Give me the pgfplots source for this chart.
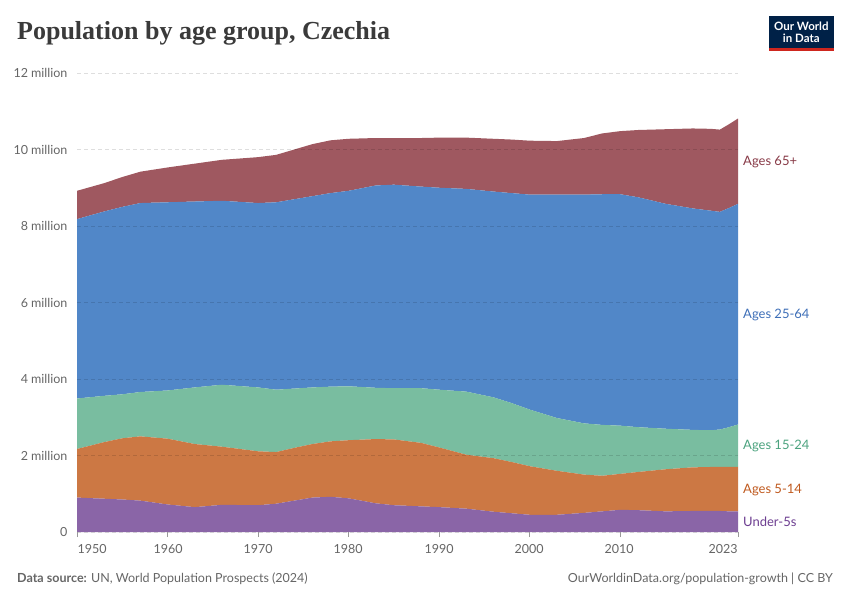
\documentclass[border=0pt]{standalone}
\usepackage{fontspec}
\setmainfont{Lato}
\newfontfamily\titlefont{Liberation Serif}
\usepackage{pgfplots}
\usepackage{pgfplotstable}
\pgfplotsset{compat=1.18}
\definecolor{cU}{HTML}{8A65A7}
\definecolor{cA}{HTML}{CC7844}
\definecolor{cB}{HTML}{79BDA0}
\definecolor{cC}{HTML}{5187C8}
\definecolor{cD}{HTML}{9F5860}
\definecolor{lU}{HTML}{6D3E91}
\definecolor{lA}{HTML}{C05A1F}
\definecolor{lB}{HTML}{4CA37F}
\definecolor{lC}{HTML}{3E6FB8}
\definecolor{lD}{HTML}{883A47}
\definecolor{txt}{HTML}{666666}
\definecolor{ttl}{HTML}{3A3A3A}
\definecolor{navy}{HTML}{002147}
\definecolor{owidred}{HTML}{CE261E}
\pgfplotstableread{
year u5 a514 a1524 a2564 a65
1950 0.90 1.27 1.32 4.69 0.74
1953 0.87 1.48 1.21 4.82 0.74
1955 0.85 1.60 1.15 4.90 0.78
1957 0.82 1.68 1.16 4.94 0.82
1960 0.72 1.72 1.26 4.92 0.91
1963 0.65 1.65 1.48 4.86 0.99
1966 0.71 1.52 1.62 4.81 1.07
1970 0.70 1.41 1.67 4.82 1.20
1972 0.74 1.35 1.63 4.90 1.24
1974 0.82 1.38 1.55 4.95 1.30
1976 0.90 1.40 1.48 5.00 1.36
1978 0.92 1.45 1.43 5.06 1.38
1980 0.88 1.52 1.41 5.11 1.36
1983 0.75 1.68 1.34 5.29 1.24
1985 0.70 1.72 1.34 5.32 1.22
1988 0.67 1.66 1.43 5.27 1.27
1990 0.65 1.56 1.51 5.28 1.31
1993 0.61 1.41 1.65 5.30 1.34
1996 0.53 1.40 1.59 5.38 1.38
1998 0.49 1.34 1.54 5.49 1.40
2000 0.45 1.27 1.48 5.62 1.41
2003 0.45 1.15 1.38 5.84 1.40
2006 0.50 1.00 1.34 5.98 1.48
2008 0.54 0.93 1.33 6.03 1.59
2010 0.58 0.94 1.26 6.05 1.65
2012 0.57 1.00 1.17 6.01 1.76
2015 0.54 1.10 1.06 5.88 1.95
2018 0.55 1.14 0.98 5.79 2.09
2020 0.55 1.15 0.96 5.74 2.14
2021 0.55 1.15 0.98 5.69 2.15
2022 0.54 1.16 1.04 5.73 2.19
2023 0.54 1.16 1.11 5.77 2.23
}\pop
\begin{document}
\begin{tikzpicture}[x=1pt,y=1pt]
\path[use as bounding box] (0,0) rectangle (850,600);
\fill[white] (0,0) rectangle (850,600);
% title
\node[anchor=base west, inner sep=0, text=ttl, font=\titlefont\bfseries\fontsize{26}{30}\selectfont] at (17,560) {Population by age group, Czechia};
% logo
\fill[navy] (769,548.5) rectangle (833.5,584);
\fill[owidred] (769,548.5) rectangle (833.5,551.5);
\node[text=white, font=\bfseries\fontsize{11.5}{12.5}\selectfont, align=center, inner sep=0] at (801.3,567.5) {Our World\\in Data};
\begin{axis}[at={(77pt,68pt)}, anchor=south west, scale only axis,
  width=661pt, height=459pt,
  xmin=1950, xmax=2023, ymin=0, ymax=12,
  stack plots=y,
  axis on top,
  axis line style={draw=none},
  ytick={0,2,4,6,8,10,12},
  yticklabels={0,2 million,4 million,6 million,8 million,10 million,12 million},
  ymajorgrids,
  grid style={dash pattern=on 4pt off 3pt, draw=black, opacity=0.13, line width=0.6pt},
  xtick={1950,1960,1970,1980,1990,2000,2010,2023},
  xticklabels={},
  xtick pos=bottom,
  ytick pos=left,
  tick align=outside,
  major tick length=5pt,
  x tick style={draw=black!40, line width=0.6pt},
  y tick style={draw=none},
  yticklabel style={text=txt, font=\fontsize{12.5}{14}\selectfont, /pgf/number format/assume math mode=true, xshift=-1pt},
  clip=false,
]
\addplot[fill=cU, draw=none] table[x=year,y=u5] {\pop} \closedcycle;
\addplot[fill=cA, draw=none] table[x=year,y=a514] {\pop} \closedcycle;
\addplot[fill=cB, draw=none] table[x=year,y=a1524] {\pop} \closedcycle;
\addplot[fill=cC, draw=none] table[x=year,y=a2564] {\pop} \closedcycle;
\addplot[fill=cD, draw=none] table[x=year,y=a65] {\pop} \closedcycle;
\end{axis}
% x tick labels
\begin{scope}[every node/.style={text=txt, font=\fontsize{12.5}{14}\selectfont, inner sep=0}]
\node at (92,51) {1950};
\node at (168,51) {1960};
\node at (258,51) {1970};
\node at (348,51) {1980};
\node at (439,51) {1990};
\node at (529,51) {2000};
\node at (619,51) {2010};
\node at (723,51) {2023};
\end{scope}
% series labels
\begin{scope}[every node/.style={anchor=west, inner sep=0, font=\fontsize{13}{15}\selectfont}]
\node[text=lD] at (743,438) {Ages 65+};
\node[text=lC] at (743,285) {Ages 25-64};
\node[text=lB] at (743,154) {Ages 15-24};
\node[text=lA] at (743,110) {Ages 5-14};
\node[text=lU] at (743,78) {Under-5s};
\end{scope}
% footer
\node[anchor=base west, inner sep=0, text=txt, font=\fontsize{12.5}{14}\selectfont] at (17,18) {\textbf{Data source:} UN, World Population Prospects (2024)};
\node[anchor=base east, inner sep=0, text=txt, font=\fontsize{12.5}{14}\selectfont] at (833,18) {OurWorldinData.org/population-growth | CC BY};
\end{tikzpicture}
\end{document}
